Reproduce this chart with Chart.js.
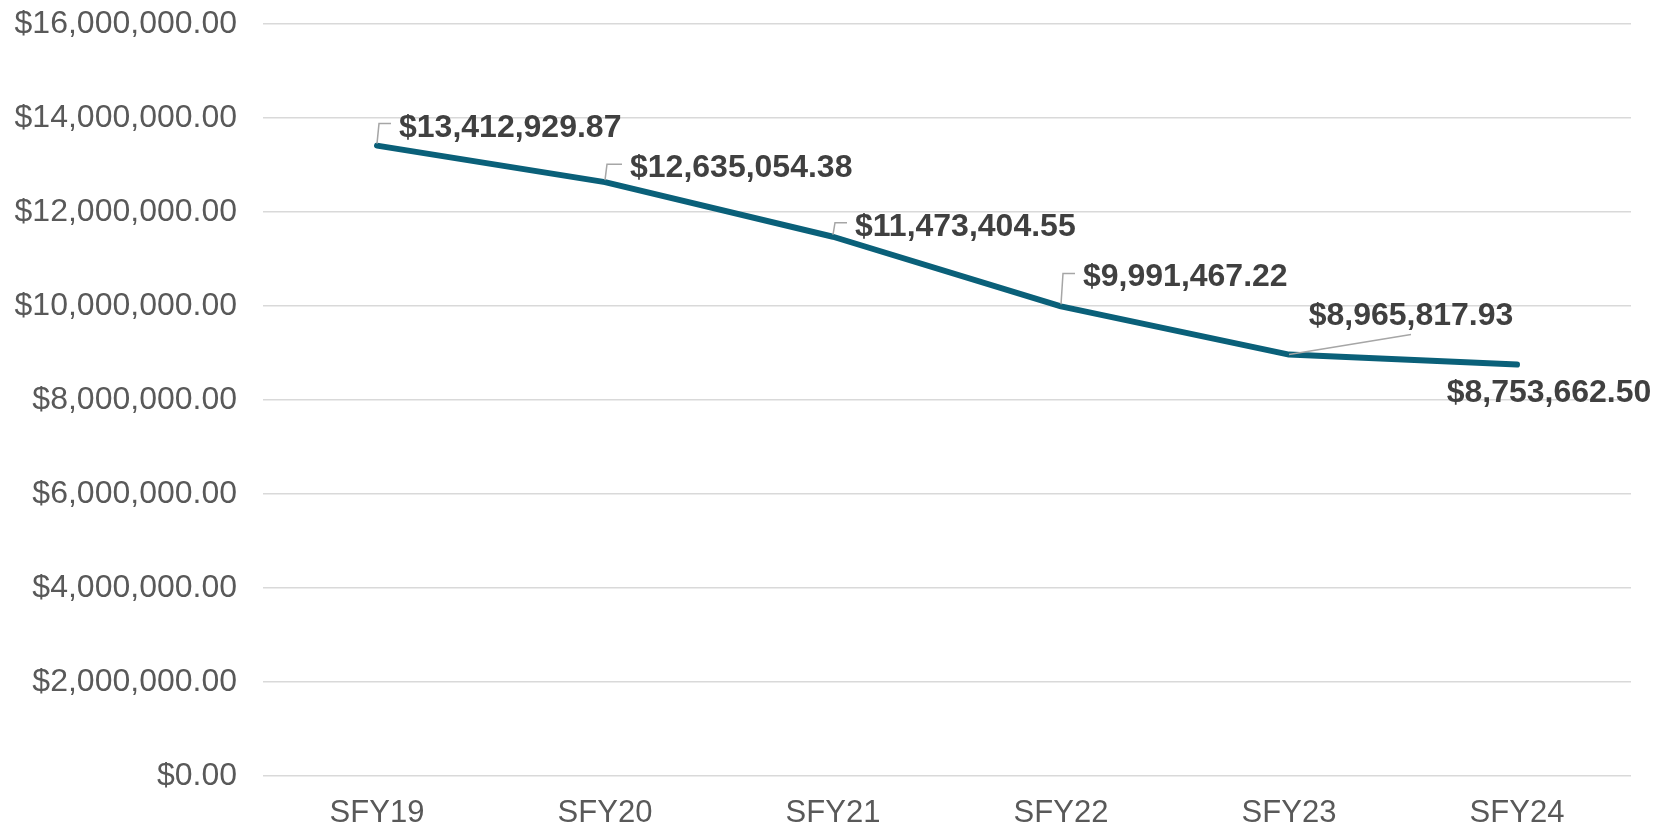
<!DOCTYPE html>
<html>
<head>
<meta charset="utf-8">
<script src="https://cdn.jsdelivr.net/npm/chart.js@4"></script>
<style>
  html, body { margin: 0; padding: 0; background: #fff; }
  #wrap { width: 1671px; height: 827px; }
</style>
</head>
<body>
<div id="wrap"><canvas id="lineChart"></canvas></div>
<script>
var years = ['SFY19', 'SFY20', 'SFY21', 'SFY22', 'SFY23', 'SFY24'];
var amounts = [13412929.87, 12635054.38, 11473404.55, 9991467.22, 8965817.93, 8753662.50];
var yMax = 16000000;
var yStep = 2000000;

// where each value label sits, relative to its point: [dx, dy(baseline), align, leader]
var labelPlace = [
	[22, -9, 'left', 'elbow'],
	[25, -5, 'left', 'elbow'],
	[22, -1, 'left', 'elbow'],
	[22, -20, 'left', 'elbow'],
	[122, -30, 'center', 'slant'],
	[32, 37, 'center', 'none']
];

var fontFamily = '"Liberation Sans", Arial, sans-serif';

function money(v) {
	return '$' + v.toLocaleString('en-US', {minimumFractionDigits: 2, maximumFractionDigits: 2});
}

var valueLabels = {
	id: 'valueLabels',
	afterDatasetsDraw: function(chart) {
		var ctx = chart.ctx;
		var meta = chart.getDatasetMeta(0);
		ctx.save();
		ctx.font = 'bold 32px ' + fontFamily;
		ctx.textBaseline = 'alphabetic';
		for (var i = 0; i < meta.data.length; i++) {
			var pt = meta.data[i];
			var p = labelPlace[i];
			var tx = pt.x + p[0];
			var ty = pt.y + p[1];

			// leader line
			ctx.strokeStyle = '#a6a6a6';
			ctx.lineWidth = 1.5;
			ctx.beginPath();
			if (p[3] == 'elbow') {
				ctx.moveTo(pt.x, pt.y - 2);
				ctx.lineTo(pt.x + 2, ty - 13);
				ctx.lineTo(tx - 8, ty - 13);
				ctx.stroke();
			} else if (p[3] == 'slant') {
				ctx.moveTo(pt.x, pt.y);
				ctx.lineTo(tx, ty + 10);
				ctx.stroke();
			}

			ctx.fillStyle = '#404040';
			ctx.textAlign = p[2];
			ctx.fillText(money(amounts[i]), tx, ty);
		}
		ctx.restore();
	}
};

var chartdata = {
	labels: years,
	datasets: [
		{
			label: 'Amount',
			data: amounts,
			borderColor: '#0a6079',
			backgroundColor: '#0a6079',
			borderWidth: 6,
			borderCapStyle: 'round',
			borderJoinStyle: 'round',
			pointRadius: 0,
			tension: 0,
			fill: false
		}
	]
};

var options = {
	responsive: true,
	maintainAspectRatio: false,
	animation: false,
	layout: {
		padding: { left: 0, right: 40, top: 24, bottom: -24 }
	},
	plugins: {
		legend: { display: false },
		tooltip: { enabled: false }
	},
	scales: {
		x: {
			offset: true,
			grid: { display: false, drawTicks: false },
			border: { display: false },
			ticks: {
				color: '#595959',
				padding: 22,
				font: { family: fontFamily, size: 31, lineHeight: 1 }
			}
		},
		y: {
			min: 0,
			max: yMax,
			afterFit: function(scale) {
				scale.width = 263;
				scale.paddingTop = 0;
				scale.paddingBottom = 0;
			},
			grid: { color: '#d9d9d9', lineWidth: 1.5, drawTicks: false },
			border: { display: false },
			ticks: {
				stepSize: yStep,
				color: '#595959',
				padding: 26,
				font: { family: fontFamily, size: 32 },
				callback: function(v) { return money(v); }
			}
		}
	}
};

var lineChart = new Chart(document.getElementById('lineChart'), {
	type: 'line',
	data: chartdata,
	options: options,
	plugins: [valueLabels]
});
</script>
</body>
</html>
